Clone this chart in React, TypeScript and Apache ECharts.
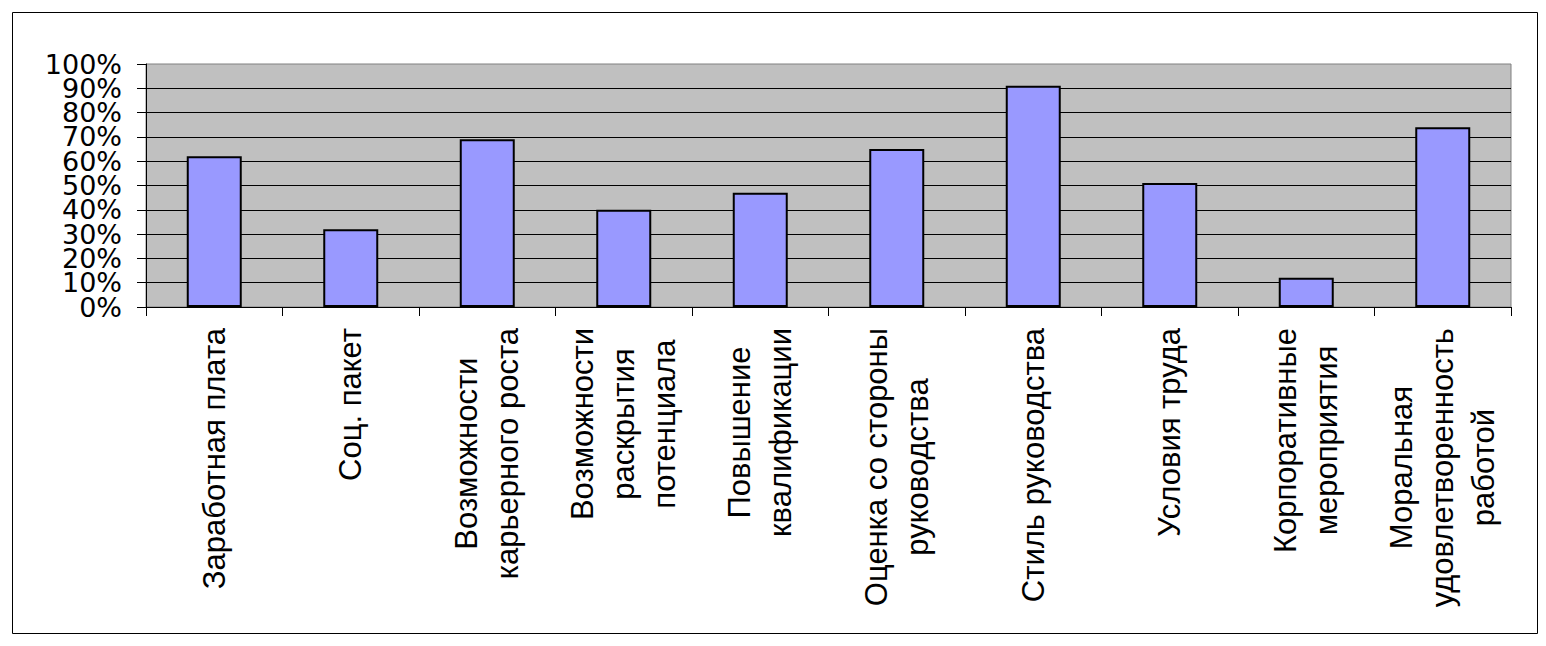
import React, { useEffect, useRef } from "react";
import * as echarts from "echarts";

const categories: string[] = [
  "Заработная плата",
  "Соц. пакет",
  "Возможности\nкарьерного роста",
  "Возможности\nраскрытия\nпотенциала",
  "Повышение\nквалификации",
  "Оценка со стороны\nруководства",
  "Стиль руководства",
  "Условия труда",
  "Корпоративные\nмероприятия",
  "Моральная\nудовлетворенность\nработой",
];

const values: number[] = [62, 32, 69, 40, 47, 65, 91, 51, 12, 74];

const yMin = 0;
const yMax = 100;
const yStep = 10;

const yLabelStyle = {
  fontFamily: "DejaVu Sans",
  fontSize: 27,
  color: "#000000",
  margin: 24,
};

export default function App() {
  const ref = useRef<HTMLDivElement>(null);

  useEffect(() => {
    if (!ref.current) return;
    const chart = echarts.init(ref.current, undefined, { renderer: "svg" });
    chart.setOption({
      animation: false,
      backgroundColor: "#ffffff",
      graphic: [
        {
          type: "rect",
          shape: { x: 4.5, y: 4.5, width: 1525, height: 621 },
          style: { fill: "none", stroke: "#000000", lineWidth: 1 },
          silent: true,
        },
      ],
      grid: {
        left: 138,
        top: 56,
        width: 1365,
        height: 243,
        show: true,
        backgroundColor: "#C0C0C0",
        borderColor: "#808080",
        borderWidth: 1,
        containLabel: false,
      },
      xAxis: {
        type: "category",
        data: categories,
        axisLine: { show: true, lineStyle: { color: "#000000", width: 1 } },
        axisTick: { show: true, length: 9, lineStyle: { color: "#000000" } },
        axisLabel: {
          interval: 0,
          rotate: 90,
          margin: 21,
          formatter: (v: string) =>
            v
              .split("\n")
              .map((s) => "{c|" + s + "}")
              .join("\n"),
          rich: {
            c: {
              align: "center",
              fontFamily: "Liberation Sans",
              fontSize: 31,
              lineHeight: 41,
              color: "#000000",
            },
          },
        },
      },
      yAxis: [
        {
          type: "value",
          position: "left",
          min: yMin,
          max: yMax,
          interval: yStep,
          axisLine: { show: true, lineStyle: { color: "#000000", width: 1 } },
          axisTick: { show: true, length: 9, lineStyle: { color: "#000000" } },
          axisLabel: {
            ...yLabelStyle,
            formatter: (v: number) =>
              v === yMin || v === yMax ? "" : v + "%",
          },
          splitLine: {
            show: true,
            showMaxLine: false,
            lineStyle: { color: "#000000", width: 1 },
          },
        },
        {
          type: "value",
          position: "left",
          offset: 0,
          min: yMin,
          max: yMax,
          interval: yStep,
          axisLine: { show: false },
          axisTick: { show: false },
          splitLine: { show: false },
          axisLabel: {
            ...yLabelStyle,
            showMinLabel: true,
            showMaxLabel: true,
            formatter: (v: number) =>
              v === yMin || v === yMax ? v + "%" : "",
          },
        },
      ],
      series: [
        {
          type: "bar",
          yAxisIndex: 0,
          data: values,
          barWidth: 55,
          itemStyle: {
            color: "#9999FF",
            borderColor: "#000000",
            borderWidth: 2,
          },
        },
      ],
    });
    return () => chart.dispose();
  }, []);

  return <div ref={ref} style={{ width: 1530, height: 630 }} />;
}
